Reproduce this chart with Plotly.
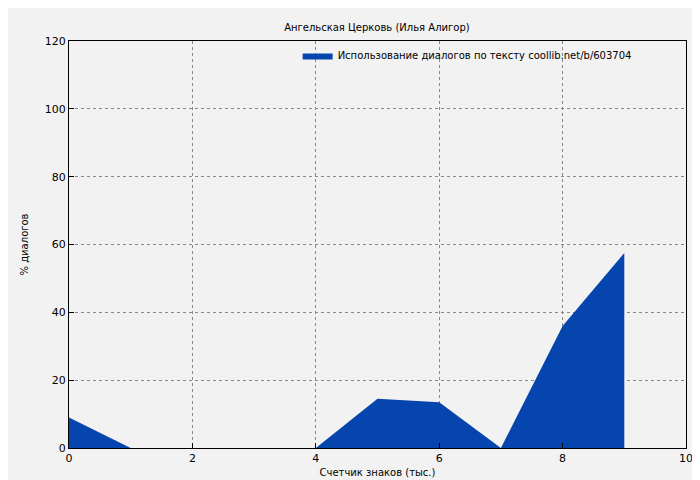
import plotly.graph_objects as go

# dialog share by character count (thousands)
x_thousands = [0, 1, 2, 3, 4, 5, 6, 7, 8, 9]
dialog_pct = [9, 0, 0, 0, 0, 14.5, 13.5, 0, 36, 57.5]

fill_color = "#0645ad"

fig = go.Figure()
fig.add_trace(go.Scatter(
    x=x_thousands, y=dialog_pct, mode="lines", fill="tozeroy",
    line=dict(color=fill_color, width=0), fillcolor=fill_color,
    name="Использование диалогов по тексту coollib.net/b/603704",
))

axis_common = dict(
    showgrid=True, gridcolor="#888888", griddash="dot", gridwidth=1,
    showline=True, linecolor="black", mirror=True, ticks="inside",
    ticklen=5, tickcolor="black", zeroline=False, automargin=False,
    tickfont=dict(size=11),
)

fig.update_layout(
    width=700, height=480,
    paper_bgcolor="#f2f2f2", plot_bgcolor="#f2f2f2",
    font=dict(family="DejaVu Sans", size=10, color="black"),
    margin=dict(l=61, r=22, t=33, b=40, autoexpand=False),
    title=dict(text="Ангельская Церковь (Илья Алигор)", x=0.527, y=0.967,
               xanchor="center", font=dict(size=10)),
    xaxis=dict(range=[0, 10], dtick=2,
               title=dict(text="Счетчик знаков (тыс.)", standoff=4, font=dict(size=10)),
               **axis_common),
    yaxis=dict(range=[0, 120], dtick=20,
               title=dict(text="% диалогов", standoff=14, font=dict(size=10)),
               **axis_common),
    showlegend=True,
    legend=dict(x=0.92, y=1.0, xanchor="right", yanchor="top",
                bgcolor="rgba(0,0,0,0)", font=dict(size=10)),
)
fig.write_html("out.html")
